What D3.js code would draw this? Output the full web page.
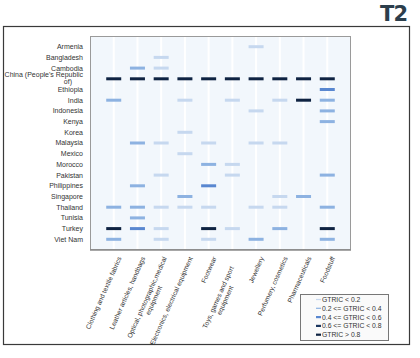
<!DOCTYPE html>
<html><head><meta charset="utf-8">
<script src="https://cdn.jsdelivr.net/npm/d3@7"></script>
<style>body{margin:0;background:#fff}svg{display:block}</style>
</head><body><svg id="c" width="420" height="358"></svg>
<script>
const countries = ["Armenia","Bangladesh","Cambodia","China (People's Republic of)","Ethiopia","India","Indonesia","Kenya","Korea","Malaysia","Mexico","Morocco","Pakistan","Philippines","Singapore","Thailand","Tunisia","Turkey","Viet Nam"];
const sectors = ["Clothing and textile fabrics","Leather articles, handbags","Optical, photographic,medical equipment","Electronics, electrical equipment","Footwear","Toys, games and sport equipment","Jewellery","Perfumery, cosmetics","Pharmaceuticals","Foodstuff"];
// GTRIC values per sector, in country order (null = no mark)
const clothing    = [null,null,null,0.9,null,0.3,null,null,null,null,null,null,null,null,null,0.3,null,0.9,0.3];
const leather     = [null,null,0.3,0.9,null,null,null,null,null,0.3,null,null,null,0.3,null,0.3,0.3,0.5,null];
const optical     = [null,0.1,0.1,0.9,null,null,null,null,null,0.1,null,null,0.1,null,null,0.1,null,0.1,0.1];
const electronics = [null,null,null,0.9,null,0.1,null,null,0.1,null,0.1,null,null,null,0.3,0.1,null,null,null];
const footwear    = [null,null,null,0.9,null,null,null,null,null,0.1,null,0.3,null,0.5,null,0.1,null,0.9,0.1];
const toys        = [null,null,null,0.9,null,0.1,null,null,null,null,null,0.1,0.1,null,null,null,null,0.1,null];
const jewellery   = [0.1,null,null,0.9,null,null,0.1,null,null,0.1,null,null,null,null,null,0.1,null,null,0.3];
const perfumery   = [null,null,null,0.9,null,0.1,null,null,null,0.1,null,null,null,null,0.1,0.1,null,0.3,null];
const pharma      = [null,null,null,0.9,null,0.9,null,null,null,null,null,null,null,null,0.3,null,null,null,null];
const foodstuff   = [null,null,null,0.9,0.5,0.3,0.3,0.3,null,null,null,null,0.3,null,null,0.3,null,0.9,0.3];
const seriesBySector = [clothing,leather,optical,electronics,footwear,toys,jewellery,perfumery,pharma,foodstuff];
const thresholds = [0.2,0.4,0.6,0.8];
const legendLabels = ["GTRIC < 0.2","0.2 <= GTRIC < 0.4","0.4 <= GTRIC < 0.6","0.6 <= GTRIC < 0.8","GTRIC > 0.8"];
const countryLabelLines = [["Armenia"],["Bangladesh"],["Cambodia"],["China (People's Republic","of)"],["Ethiopia"],["India"],["Indonesia"],["Kenya"],["Korea"],["Malaysia"],["Mexico"],["Morocco"],["Pakistan"],["Philippines"],["Singapore"],["Thailand"],["Tunisia"],["Turkey"],["Viet Nam"]];
const sectorLabelLines = [["Clothing and textile fabrics"],["Leather articles, handbags"],["Optical, photographic,medical","equipment"],["Electronics, electrical equipment"],["Footwear"],["Toys, games and sport","equipment"],["Jewellery"],["Perfumery, cosmetics"],["Pharmaceuticals"],["Foodstuff"]];

const colors = ["#c6d8ef","#8db2e1","#5987d0","#1b365f","#0f2342"];
const color = d3.scaleThreshold().domain(thresholds).range(colors);

const svg = d3.select("#c");
const font = "'Liberation Sans', Arial, sans-serif";
const P = {l:90, t:36, r:351, b:250};

// outer frame
svg.append("rect").attr("x",3.5).attr("y",26.5).attr("width",406).attr("height",318)
  .attr("fill","#fff").attr("stroke","#3a3a3a").attr("stroke-width",1.2);

// T2 logo
svg.append("text").attr("x",407).attr("y",21).attr("text-anchor","end")
  .attr("font-family","'DejaVu Sans', sans-serif").attr("font-weight","900").attr("font-size",21)
  .attr("fill","#2c3e4c").attr("letter-spacing",-1).text("T2");

const x = d3.scalePoint().domain(sectors).range([P.l,P.r]).padding(1);
const y = d3.scalePoint().domain(countries).range([P.t,P.b]).padding(1);

// plot background
svg.append("rect").attr("x",P.l).attr("y",P.t).attr("width",P.r-P.l).attr("height",P.b-P.t)
  .attr("fill","#f2f7fc");
svg.append("g").selectAll("line").data(sectors).join("line")
  .attr("x1",d=>x(d)).attr("x2",d=>x(d)).attr("y1",P.t).attr("y2",P.b)
  .attr("stroke","#ffffff").attr("stroke-width",2);
svg.append("rect").attr("x",P.l+0.5).attr("y",P.t+0.5).attr("width",P.r-P.l-1).attr("height",P.b-P.t-1)
  .attr("fill","none").attr("stroke","#9a9a9a").attr("stroke-width",1);
svg.append("line").attr("x1",P.l).attr("x2",P.r).attr("y1",P.b).attr("y2",P.b)
  .attr("stroke","#8a8a8a").attr("stroke-width",1.5);

// marks
const cells = [];
seriesBySector.forEach((arr,si)=>arr.forEach((v,ci)=>{ if(v!==null) cells.push({s:sectors[si],c:countries[ci],v}); }));
const bw = 15, bh = 3;
svg.append("g").selectAll("rect").data(cells).join("rect")
  .attr("x",d=>x(d.s)-bw/2).attr("y",d=>y(d.c)-bh/2).attr("width",bw).attr("height",bh)
  .attr("fill",d=>color(d.v));

// y labels
const yl = svg.append("g").attr("font-family",font).attr("font-size",7).attr("fill","#333");
countries.forEach((c,i)=>{
  const lines = countryLabelLines[i];
  const t = yl.append("text").attr("text-anchor","end").attr("x",83)
    .attr("y", y(c) + 2.4 - (lines.length-1)*4.5);
  lines.forEach((ln,j)=>t.append("tspan").attr("x",j?72:83).attr("dy", j?7.5:0).text(ln));
});

// x labels: single lines end-aligned at the tick; wrapped labels centred in a fixed-width box
const xl = svg.append("g").attr("font-family",font).attr("font-size",6.7).attr("fill","#333");
const wrapW = 90;
sectors.forEach((s,i)=>{
  const lines = sectorLabelLines[i];
  const multi = lines.length > 1;
  const t = xl.append("text").attr("text-anchor", multi ? "middle" : "end")
    .attr("transform",`translate(${x(s)+8},258) rotate(-66)`);
  lines.forEach((ln,j)=>t.append("tspan").attr("x", multi ? -wrapW/2 : 0)
    .attr("dy", j ? 7.5 : (multi ? -2 : 0)).text(ln));
});

// legend
const lg = svg.append("g").attr("font-family",font).attr("font-size",6.8).attr("fill","#333");
lg.append("rect").attr("x",300.5).attr("y",294.5).attr("width",88).attr("height",46)
  .attr("fill","#fafafa").attr("stroke","#777").attr("stroke-width",1);
legendLabels.forEach((lab,i)=>{
  const yy = 299.5 + i*8.8;
  lg.append("rect").attr("x",316).attr("y",yy-(i<2?0.6:1.1)).attr("width",5).attr("height",i<2?1.2:2.2)
    .attr("fill",colors[i]);
  lg.append("text").attr("x",322).attr("y",yy+2.4).text(lab);
});
</script></body></html>
